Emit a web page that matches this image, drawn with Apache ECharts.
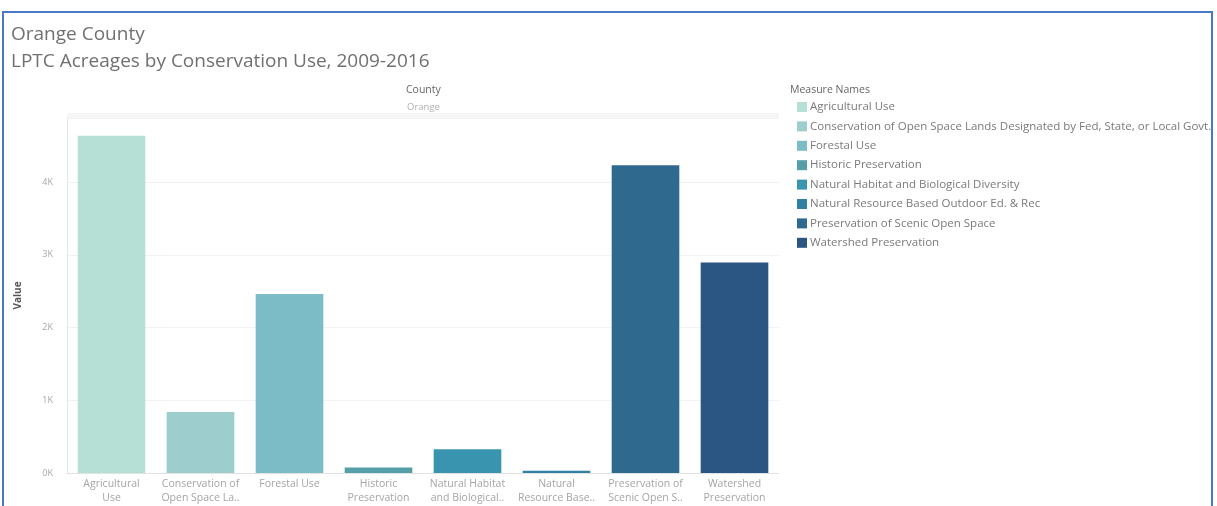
<!DOCTYPE html>
<html>
<head>
<meta charset="utf-8">
<script src="https://cdn.jsdelivr.net/npm/echarts@6/dist/echarts.min.js"></script>
<style>
  html, body { margin: 0; padding: 0; background: #fff; }
  #frame { position: absolute; left: 2px; top: 11px; width: 1211px; height: 520px;
           border: 2px solid #4a78c9; border-bottom: none; box-sizing: border-box; }
  #main { position: absolute; left: 0; top: 0; width: 1217px; height: 506px; }
</style>
</head>
<body>
<div id="frame"></div>
<div id="main"></div>
<script>
// categories (axis labels) and full legend names
var axisLabels = ['Agricultural\nUse', 'Conservation of\nOpen Space La..', 'Forestal Use', 'Historic\nPreservation',
    'Natural Habitat\nand Biological..', 'Natural\nResource Base..', 'Preservation of\nScenic Open S..', 'Watershed\nPreservation'];
var measureNames = ['Agricultural Use', 'Conservation of Open Space Lands Designated by Fed, State, or Local Govt.',
    'Forestal Use', 'Historic Preservation', 'Natural Habitat and Biological Diversity',
    'Natural Resource Based Outdoor Ed. & Rec', 'Preservation of Scenic Open Space', 'Watershed Preservation'];
// acreage values
var acreage = [4635, 840, 2460, 75, 325, 30, 4230, 2895];
var barColors = ['#b6e0d6', '#9dcdcd', '#7bbcc7', '#559fa8', '#3994b0', '#2f80a2', '#2f6a8e', '#2b5582'];
var yTicks = [0, 1000, 2000, 3000, 4000];

var series = measureNames.map(function (name, i) {
    var d = acreage.map(function (v, j) { return j === i ? v : null; });
    return {
        name: name, type: 'bar', stack: 'all', data: d, barWidth: '76%',
        itemStyle: { color: barColors[i] }
    };
});

var myChart = echarts.init(document.getElementById('main'));
myChart.setOption({
    animation: false,
    textStyle: { fontFamily: 'Open Sans' },
    title: [
        { text: 'Orange County', left: 6, top: 20,
          textStyle: { fontSize: 19, fontWeight: 'normal', color: '#707070', fontFamily: 'Open Sans' } },
        { text: 'LPTC Acreages by Conservation Use, 2009-2016', left: 6, top: 47,
          textStyle: { fontSize: 19, fontWeight: 'normal', color: '#707070', fontFamily: 'Open Sans' } }
    ],
    grid: { left: 67, right: 438, top: 118, bottom: 33, containLabel: false },
    legend: {
        orient: 'vertical', left: 792, top: 96,
        itemWidth: 10, itemHeight: 10, itemGap: 7.4, icon: 'rect',
        textStyle: { fontSize: 11.5, color: '#7a7a7a', fontFamily: 'Open Sans', padding: [0, 0, 0, -2] },
        data: measureNames
    },
    xAxis: {
        type: 'category', data: axisLabels,
        axisLine: { lineStyle: { color: '#e2e2e2' } },
        axisTick: { show: false },
        axisLabel: { fontSize: 10.5, color: '#a5a5a5', lineHeight: 14, margin: 4, interval: 0 }
    },
    yAxis: {
        type: 'value', min: 0, max: 4880, interval: 1000,
        name: 'Value', nameLocation: 'middle', nameGap: 44, nameRotate: 90,
        nameTextStyle: { fontSize: 10, color: '#555', fontWeight: 'bold' },
        axisLine: { show: true, lineStyle: { color: '#e6e6e6' } },
        axisTick: { show: false },
        axisLabel: {
            fontSize: 9, color: '#a8a8a8', margin: 14,
            formatter: function (v) { return yTicks.indexOf(v) >= 0 ? (v / 1000) + 'K' : ''; }
        },
        splitLine: { lineStyle: { color: '#f2f2f2' } }
    },
    graphic: [
        { type: 'text', left: 406, top: 85, style: { text: 'County', font: '10.5px "Open Sans"', fill: '#666' } },
        { type: 'text', left: 407, top: 102, style: { text: 'Orange', font: '9.5px "Open Sans"', fill: '#b0b0b0' } },
        { type: 'rect', shape: { x: 67, y: 113, width: 712, height: 5 }, style: { fill: '#f6f6f6' } },
        { type: 'text', left: 790, top: 85, style: { text: 'Measure Names', font: '10.5px "Open Sans"', fill: '#666' } }
    ],
    series: series
});
</script>
</body>
</html>
